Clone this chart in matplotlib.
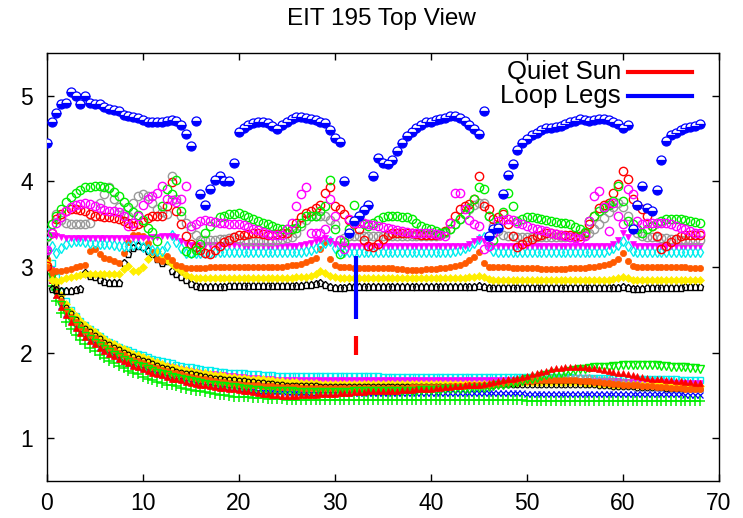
import numpy as np
import matplotlib
matplotlib.use("Agg")
import matplotlib.pyplot as plt

plt.rcParams['font.family'] = ['Liberation Sans', 'DejaVu Sans']

# time axis (hours), one sample every 0.5
t = np.arange(0, 68.01, 0.5)

# ---------------- upper group ----------------
blue_up = [
4.45,4.70,4.80,4.90,4.92,5.05,5.00,4.90,5.00,4.92,
4.90,4.90,4.87,4.85,4.84,4.82,4.78,4.76,4.75,4.74,
4.72,4.70,4.69,4.70,4.70,4.71,4.72,4.71,4.66,4.56,
4.41,4.71,3.85,3.72,3.91,4.02,4.06,4.01,4.00,4.22,
4.58,4.63,4.66,4.68,4.69,4.69,4.68,4.65,4.61,4.66,
4.70,4.73,4.75,4.75,4.74,4.73,4.72,4.70,4.68,4.60,
4.51,4.46,4.00,3.40,3.54,3.60,3.67,3.73,4.06,4.28,
4.22,4.20,4.25,4.36,4.45,4.53,4.58,4.63,4.66,4.69,
4.70,4.72,4.73,4.74,4.76,4.77,4.74,4.71,4.66,4.61,
4.56,4.82,3.36,3.44,3.46,3.85,4.07,4.21,4.37,4.45,
4.50,4.54,4.57,4.60,4.62,4.63,4.64,4.65,4.67,4.69,
4.71,4.73,4.72,4.71,4.72,4.73,4.73,4.72,4.70,4.67,
4.63,4.66,3.44,3.72,3.95,3.69,3.65,3.90,4.25,4.47,
4.54,4.57,4.60,4.62,4.64,4.65,4.67]

red_up = [
3.01,3.40,3.56,3.62,3.66,3.68,3.68,3.67,3.65,3.62,
3.60,3.60,3.59,3.58,3.57,3.56,3.54,3.52,3.48,3.50,
3.53,3.57,3.60,3.60,3.60,3.71,3.99,3.66,3.50,3.36,
3.27,3.24,3.20,3.16,3.15,3.20,3.25,3.29,3.32,3.35,
3.37,3.38,3.39,3.40,3.40,3.39,3.38,3.38,3.39,3.40,
3.40,3.45,3.52,3.58,3.63,3.66,3.69,3.73,3.87,3.93,
3.71,3.68,3.62,3.55,3.50,3.44,3.32,3.25,3.23,3.27,
3.33,3.37,3.40,3.40,3.40,3.40,3.40,3.39,3.38,3.38,
3.38,3.38,3.38,3.42,3.52,3.60,3.68,3.71,3.74,3.79,
4.06,3.71,3.68,3.56,3.59,3.62,3.50,3.36,3.23,3.27,
3.30,3.33,3.36,3.38,3.40,3.40,3.39,3.38,3.38,3.37,
3.36,3.36,3.40,3.50,3.60,3.69,3.72,3.75,3.86,3.97,
4.12,4.03,3.79,3.72,3.68,3.60,3.48,3.36,3.21,3.25,
3.29,3.33,3.36,3.38,3.38,3.38,3.38]

green_up = [
3.36,3.50,3.60,3.68,3.76,3.82,3.87,3.90,3.93,3.94,
3.95,3.95,3.94,3.92,3.88,3.83,3.76,3.70,3.64,3.61,
3.55,3.46,3.41,3.30,3.71,3.91,3.85,4.02,3.66,3.19,
3.17,3.20,3.27,3.40,3.48,3.53,3.58,3.60,3.62,3.62,
3.63,3.61,3.59,3.56,3.54,3.52,3.50,3.48,3.46,3.44,
3.44,3.44,3.46,3.52,3.60,3.60,3.60,3.65,3.71,4.02,
3.44,3.15,3.29,3.45,3.73,3.60,3.50,3.48,3.52,3.55,
3.58,3.60,3.60,3.60,3.59,3.58,3.56,3.52,3.48,3.46,
3.44,3.42,3.40,3.41,3.44,3.50,3.56,3.62,3.69,3.79,
3.93,3.91,3.60,3.32,3.48,3.64,3.87,3.71,3.54,3.56,
3.58,3.58,3.57,3.56,3.55,3.54,3.53,3.52,3.51,3.50,
3.47,3.44,3.41,3.54,3.60,3.66,3.69,3.72,3.77,3.95,
3.77,3.54,3.50,3.45,3.40,3.44,3.48,3.52,3.54,3.56,
3.56,3.56,3.56,3.55,3.54,3.53,3.52]

magenta_up = [
3.20,3.40,3.52,3.58,3.66,3.70,3.73,3.74,3.75,3.74,
3.71,3.69,3.67,3.66,3.65,3.64,3.60,3.48,3.52,3.60,
3.72,3.79,3.83,3.87,3.95,3.79,3.78,3.76,3.79,3.95,
3.48,3.50,3.54,3.55,3.54,3.53,3.52,3.51,3.50,3.50,
3.50,3.49,3.47,3.45,3.43,3.41,3.39,3.38,3.38,3.38,
3.45,3.52,3.71,3.85,3.94,3.40,3.40,3.40,3.44,3.79,
3.60,3.32,3.21,3.56,3.52,3.52,3.52,3.50,3.49,3.48,
3.47,3.46,3.44,3.43,3.42,3.41,3.40,3.40,3.40,3.40,
3.40,3.39,3.37,3.36,3.52,3.87,3.87,3.68,3.55,3.50,
3.48,3.21,3.25,3.40,3.54,3.55,3.56,3.55,3.52,3.50,
3.48,3.46,3.44,3.43,3.42,3.40,3.39,3.38,3.36,3.35,
3.34,3.33,3.36,3.54,3.83,3.89,3.70,3.42,3.75,3.60,
3.50,3.91,3.85,3.54,3.50,3.52,3.52,3.52,3.52,3.52,
3.50,3.48,3.46,3.44,3.42,3.40,3.40]

gray_up = [
3.35,3.50,3.62,3.55,3.52,3.50,3.50,3.50,3.50,3.52,
3.60,3.75,3.85,3.93,3.80,3.70,3.62,3.60,3.75,3.83,
3.85,3.83,3.75,3.68,3.64,3.62,4.06,3.80,3.60,3.52,
3.45,3.38,3.32,3.32,3.32,3.32,3.33,3.33,3.34,3.35,
3.33,3.31,3.30,3.30,3.30,3.30,3.30,3.31,3.32,3.33,
3.34,3.35,3.40,3.48,3.55,3.60,3.60,3.60,3.60,3.55,
3.50,3.32,3.34,3.36,3.36,3.36,3.36,3.36,3.36,3.36] + [3.36]*10 + [
3.36,3.36,3.37,3.40,3.45,3.50,3.56,3.62,3.68,3.72,
3.75,3.75,3.60,3.48,3.42,3.38,3.36,3.36,3.35,3.35] + [3.35]*10 + [
3.35,3.36,3.38,3.40,3.44,3.50,3.57,3.64,3.70,3.75,
3.70,3.60,3.44,3.40,3.36,3.35,3.35,3.35,3.34,3.34,
3.33,3.33,3.32,3.32,3.32,3.32,3.32]

magtri_up = [
3.20,3.38,3.36,3.35,3.34,3.34,3.34,3.34,3.34,3.34] + [3.34]*10 + [
3.34,3.34,3.35,3.35,3.36,3.36,3.36,3.35,3.30,3.27,
3.26,3.26,3.26,3.26,3.26,3.26,3.26,3.26,3.26,3.26,
3.26,3.25,3.25,3.25,3.25,3.25,3.25,3.25,3.25,3.25,
3.25,3.25,3.25,3.26,3.27,3.28,3.30,3.32,3.34,3.30,
3.27,3.26,3.25,3.25,3.25,3.25,3.25,3.25,3.25,3.25] + [3.25]*10 + [
3.25,3.25,3.25,3.25,3.25,3.25,3.25,3.25,3.27,3.30,
3.33,3.30,3.26,3.25,3.25,3.25,3.25,3.25,3.25,3.25] + [3.25]*10 + [
3.25,3.25,3.25,3.25,3.25,3.25,3.25,3.25,3.27,3.32,
3.40,3.35,3.27,3.25,3.25,3.25,3.25,3.25,3.25,3.25] + [3.25]*7

cyan_up = [
3.40,3.25,3.17,3.22,3.27,3.29,3.30,3.30,3.29,3.28,
3.28,3.27,3.27,3.27,3.26,3.25,3.25,3.25,3.26,3.27,
3.24,3.21,3.20,3.19,3.19,3.25,3.38,3.29,3.22,3.17,
3.17,3.17,3.17,3.17,3.17,3.18,3.18,3.18,3.18,3.18] + [3.18]*10 + [
3.18,3.18,3.18,3.18,3.19,3.20,3.22,3.25,3.28,3.30,
3.22,3.18,3.18,3.18,3.18,3.18,3.18,3.18,3.18,3.18] + [3.18]*10 + [
3.18,3.18,3.18,3.18,3.18,3.19,3.20,3.22,3.25,3.28,
3.33,3.35,3.25,3.19,3.18,3.18,3.18,3.18,3.18,3.18] + [3.18]*10 + [
3.18,3.18,3.18,3.18,3.18,3.18,3.18,3.20,3.22,3.26,
3.30,3.25,3.19,3.18,3.18,3.18,3.18,3.18,3.18,3.18] + [3.18]*7

orange_up = [
3.00,2.96,2.95,2.96,2.97,2.98,3.00,3.01,3.03,3.19,
3.21,3.15,3.11,3.09,3.07,3.05,3.17,3.29,3.38,3.37,
3.36,3.28,3.18,3.10,3.07,3.13,3.08,3.03,3.01,2.99,
2.99,2.99,2.99,2.99,3.00,3.00,3.00,3.00,3.00,3.00] + [3.00]*10 + [
3.01,3.02,3.03,3.04,3.06,3.08,3.11,3.21,3.29,3.10,
3.02,3.00,3.00,3.00,2.99,2.99,2.99,2.99,2.99,2.99,
2.99,2.99,2.99,2.98,2.98,2.97,2.97,2.97,2.97,2.98,
2.98,2.98,2.99,2.99,3.00,3.01,3.03,3.05,3.08,3.12,
3.18,3.05,3.00,3.00,3.00,3.00,3.00,2.99,2.99,2.99,
2.99,2.99,2.99,2.98,2.98,2.98,2.98,2.98,2.98,2.99,
2.99,2.99,2.99,3.00,3.00,3.01,3.02,3.04,3.06,3.09,
3.17,3.07,3.01,3.00,3.00,3.00,3.00,3.00,3.00,3.00,
3.00,3.00,3.00,3.00,2.99,2.99,2.99]

yellow_up = [
3.05,2.85,2.84,2.85,2.87,2.89,2.90,2.91,2.92,2.92,
2.92,2.92,2.92,2.92,2.92,2.92,2.98,3.01,2.96,2.95,
3.00,3.10,3.17,3.19,3.12,3.08,3.04,3.00,2.96,2.91,
2.88,2.87,2.87,2.87,2.87,2.87,2.87,2.87,2.87,2.87] + [2.87]*10 + [
2.87,2.87,2.88,2.88,2.89,2.90,2.92,2.95,2.93,2.90,
2.88,2.87,2.87,2.87,2.87,2.87,2.87,2.87,2.87,2.87] + [2.87]*10 + [
2.87,2.87,2.87,2.87,2.87,2.87,2.87,2.87,2.88,2.89,
2.90,2.88,2.86,2.85,2.85,2.85,2.85,2.85,2.85,2.85] + [2.85]*10 + [
2.85,2.85,2.85,2.85,2.85,2.85,2.85,2.85,2.86,2.87,
2.88,2.87,2.85,2.85,2.85,2.85,2.85,2.85,2.85,2.85] + [2.85]*7

black_up = [
3.03,2.74,2.73,2.72,2.72,2.72,2.73,2.74,2.93,2.90,
2.88,2.85,2.83,2.82,2.82,2.82,3.05,3.15,3.22,3.25,
3.23,3.19,3.15,3.10,3.05,3.07,2.95,2.92,2.88,2.85,
2.80,2.78,2.77,2.77,2.77,2.77,2.77,2.77,2.78,2.78] + [2.78]*10 + [
2.78,2.78,2.78,2.78,2.79,2.79,2.80,2.81,2.79,2.77,
2.76,2.76,2.76,2.77,2.77,2.77,2.77,2.77,2.77,2.77] + [2.77]*20 + [
2.78,2.77,2.76,2.76,2.76,2.76,2.76,2.76,2.76,2.76] + [2.76]*20 + [
2.77,2.76,2.74,2.74,2.75,2.76,2.76,2.76,2.76,2.76,
2.76,2.76,2.76,2.77,2.77,2.77,2.77]

# ---------------- lower group ----------------
cyan_lo = [
3.20,3.05,2.88,2.72,2.60,2.50,2.43,2.37,2.32,2.28,
2.24,2.20,2.16,2.13,2.10,2.07,2.05,2.03,2.01,1.99,
1.97,1.95,1.93,1.92,1.90,1.89,1.88,1.86,1.85,1.84,
1.83,1.82,1.81,1.80,1.80,1.79,1.78,1.78,1.77,1.77,
1.76,1.76,1.75,1.75,1.75,1.74,1.74,1.74,1.73,1.73] + [1.73]*20 + [1.72]*40 + [1.71]*10 + [1.70]*10 + [
1.69,1.69,1.68,1.68,1.68,1.68,1.68]

magenta_lo = [
3.15,2.98,2.82,2.67,2.56,2.47,2.40,2.34,2.29,2.25,
2.21,2.17,2.13,2.10,2.07,2.04,2.02,2.00,1.98,1.96,
1.94,1.92,1.90,1.89,1.87,1.86,1.85,1.83,1.82,1.81,
1.80,1.79,1.78,1.77,1.77,1.76,1.75,1.75,1.74,1.74,
1.73,1.73,1.72,1.72,1.72,1.71,1.71,1.71,1.70,1.70] + [1.70]*20 + [1.69]*30 + [1.68]*20 + [1.67]*10 + [1.66]*7

yellow_lo = [
3.08,2.95,2.81,2.67,2.57,2.49,2.43,2.37,2.32,2.28,
2.24,2.20,2.16,2.13,2.10,2.07,2.04,2.02,1.99,1.97,
1.95,1.93,1.91,1.89,1.87,1.85,1.84,1.82,1.81,1.80,
1.79,1.78,1.77,1.76,1.75,1.74,1.74,1.73,1.72,1.72,
1.71,1.71,1.70,1.70,1.69,1.69,1.68,1.68,1.67,1.67,
1.66,1.66,1.66,1.65,1.65,1.65,1.65,1.64,1.64,1.64] + [1.64]*30 + [
1.64,1.64,1.64,1.64,1.65,1.65,1.65,1.65,1.65,1.66] + [1.66]*10 + [
1.66,1.66,1.65,1.65,1.65,1.64,1.64,1.64,1.63,1.63,
1.63,1.63,1.63,1.62,1.62,1.62,1.62,1.62,1.62,1.61] + [1.61]*7

black_lo = [
3.05,2.92,2.78,2.64,2.54,2.46,2.40,2.34,2.29,2.25,
2.21,2.17,2.13,2.10,2.07,2.04,2.01,1.99,1.96,1.94,
1.92,1.90,1.88,1.86,1.84,1.82,1.81,1.79,1.78,1.77,
1.76,1.75,1.74,1.73,1.72,1.71,1.71,1.70,1.69,1.69,
1.68,1.68,1.67,1.67,1.66,1.66,1.65,1.65,1.64,1.64,
1.63,1.63,1.63,1.62,1.62,1.62,1.62,1.61,1.61,1.61] + [1.61]*30 + [
1.61,1.61,1.61,1.61,1.62,1.62,1.62,1.62,1.62,1.63] + [1.63]*10 + [
1.63,1.63,1.62,1.62,1.62,1.61,1.61,1.61,1.60,1.60,
1.60,1.60,1.60,1.59,1.59,1.59,1.59,1.59,1.59,1.58] + [1.58]*7

orange_lo = [
3.10,2.90,2.74,2.60,2.50,2.42,2.36,2.30,2.25,2.21,
2.17,2.13,2.09,2.06,2.03,2.00,1.97,1.94,1.92,1.90,
1.88,1.86,1.84,1.82,1.80,1.79,1.77,1.76,1.75,1.73,
1.72,1.71,1.70,1.69,1.68,1.67,1.66,1.66,1.65,1.64,
1.64,1.63,1.63,1.62,1.62,1.61,1.61,1.61,1.60,1.60,
1.60,1.60,1.60,1.59,1.59,1.59,1.59,1.59,1.59,1.59] + [1.59]*10 + [
1.59,1.59,1.59,1.59,1.59,1.59,1.60,1.60,1.60,1.60,
1.60,1.60,1.60,1.60,1.61,1.61,1.61,1.61,1.62,1.62,
1.62,1.63,1.63,1.64,1.64,1.65,1.65,1.66,1.66,1.67,
1.67,1.67,1.68,1.68,1.68,1.68,1.68,1.68,1.68,1.68,
1.68,1.67,1.67,1.67,1.66,1.66,1.65,1.65,1.64,1.64,
1.63,1.63,1.62,1.62,1.61,1.61,1.61,1.60,1.60,1.60,
1.59,1.59,1.59,1.58,1.58,1.58,1.58]

red_lo = [
3.10,2.85,2.68,2.54,2.44,2.36,2.29,2.23,2.18,2.14,
2.10,2.06,2.02,1.99,1.96,1.93,1.90,1.88,1.85,1.83,
1.81,1.79,1.77,1.75,1.74,1.72,1.70,1.69,1.68,1.66,
1.65,1.64,1.63,1.62,1.61,1.60,1.59,1.59,1.58,1.58,
1.57,1.56,1.55,1.54,1.53,1.52,1.52,1.51,1.51,1.50,
1.50,1.50,1.50,1.51,1.51,1.51,1.51,1.52,1.52,1.52,
1.52,1.53,1.53,1.53,1.54,1.54,1.54,1.55,1.55,1.55,
1.55,1.56,1.56,1.56,1.57,1.57,1.57,1.58,1.58,1.58,
1.58,1.59,1.59,1.60,1.60,1.61,1.61,1.62,1.62,1.63,
1.63,1.64,1.65,1.66,1.67,1.68,1.69,1.70,1.71,1.72,
1.73,1.75,1.76,1.78,1.79,1.81,1.82,1.82,1.83,1.83,
1.83,1.83,1.83,1.82,1.82,1.81,1.80,1.79,1.78,1.77,
1.76,1.75,1.74,1.73,1.72,1.71,1.70,1.69,1.69,1.68,
1.68,1.67,1.67,1.66,1.66,1.65,1.65]

greentri_lo = [
3.15,2.88,2.70,2.56,2.46,2.38,2.31,2.25,2.20,2.16,
2.12,2.08,2.04,2.01,1.98,1.95,1.92,1.89,1.87,1.85,
1.83,1.81,1.79,1.77,1.75,1.74,1.72,1.71,1.69,1.68,
1.67,1.66,1.65,1.64,1.63,1.62,1.61,1.61,1.60,1.60,
1.59,1.58,1.58,1.57,1.57,1.56,1.56,1.56,1.55,1.55,
1.55,1.55,1.54,1.54,1.54,1.54,1.54,1.54,1.54,1.54,
1.54,1.54,1.54,1.54,1.55,1.55,1.55,1.55,1.55,1.55,
1.55,1.55,1.56,1.56,1.56,1.56,1.56,1.56,1.57,1.57,
1.57,1.57,1.57,1.58,1.58,1.58,1.58,1.58,1.58,1.59,
1.59,1.59,1.60,1.61,1.62,1.63,1.64,1.65,1.66,1.67,
1.69,1.70,1.71,1.73,1.74,1.75,1.76,1.77,1.78,1.79,
1.80,1.81,1.81,1.82,1.83,1.83,1.84,1.84,1.85,1.85,
1.86,1.86,1.86,1.86,1.86,1.86,1.86,1.86,1.85,1.85,
1.84,1.84,1.83,1.83,1.82,1.82,1.81]

gray_lo = [
3.10,2.92,2.76,2.62,2.52,2.44,2.38,2.32,2.27,2.23,
2.19,2.15,2.11,2.08,2.05,2.02,1.99,1.96,1.94,1.92,
1.90,1.88,1.86,1.84,1.82,1.80,1.79,1.77,1.76,1.74,
1.73,1.72,1.71,1.70,1.69,1.68,1.67,1.67,1.66,1.65,
1.65,1.64,1.64,1.63,1.63,1.62,1.62,1.61,1.61,1.61] + [1.60]*27 + [
1.61,1.61,1.61,
1.61,1.61,1.62,1.62,1.62,1.63,1.63,1.63,1.64,1.64,
1.64,1.65,1.65,1.66,1.66,1.67,1.67,1.68,1.68,1.69,
1.69,1.70,1.70,1.71,1.71,1.72,1.72,1.72,1.73,1.73,
1.73,1.73,1.72,1.72,1.71,1.70,1.70,1.69,1.68,1.67,
1.67,1.66,1.65,1.65,1.64,1.63,1.63,1.62,1.62,1.61,
1.61,1.60,1.60,1.60,1.59,1.59,1.59]

bluex_lo = [
3.05,2.85,2.68,2.55,2.45,2.37,2.30,2.24,2.19,2.15,
2.11,2.07,2.03,2.00,1.97,1.94,1.91,1.88,1.86,1.84,
1.82,1.80,1.78,1.76,1.74,1.73,1.71,1.70,1.69,1.67,
1.66,1.65,1.64,1.63,1.62,1.61,1.61,1.60,1.59,1.59,
1.58,1.58,1.57,1.57,1.56,1.56,1.56,1.55,1.55,1.55,
1.54,1.54,1.54,1.54,1.54,1.53,1.53,1.53,1.53,1.53] + [1.53]*40 + [1.52]*33 + [1.51]*4

greenplus_lo = [
3.00,2.78,2.60,2.46,2.36,2.28,2.21,2.15,2.10,2.06,
2.02,1.98,1.94,1.91,1.88,1.85,1.82,1.79,1.77,1.75,
1.72,1.70,1.68,1.66,1.65,1.63,1.62,1.61,1.59,1.58,
1.57,1.56,1.55,1.54,1.53,1.52,1.51,1.51,1.50,1.49,
1.49,1.48,1.48,1.47,1.47,1.47,1.46,1.46,1.46,1.46] + [1.45]*50 + [1.44]*37

# the two line series shown in the key
qs_x = [32.2, 32.2]
qs_y = [2.195, 1.97]
ll_x = [32.2, 32.2]
ll_y = [3.13, 2.40]

RED = '#ff0000'; GREEN = '#00ee00'; BLUE = '#0000ff'; MAG = '#ff00ff'
CYAN = '#00eeee'; ORANGE = '#ff5a00'; YELLOW = '#ffee00'; GRAY = '#999999'

fig = plt.figure(figsize=(7.43, 5.18), dpi=100)
ax = fig.add_axes([0.0629, 0.0708, 0.9048, 0.8269])

def pts(y, **kw):
    ax.plot(t[:len(y)], y[:len(t)], linestyle='none', **kw)

# lower group
pts(cyan_lo, marker='s', ms=4.8, mfc='none', mec=CYAN, mew=1.0, zorder=2)
pts(magenta_lo, marker='s', ms=2.5, mfc=MAG, mec=MAG, mew=0.5, zorder=2)
pts(bluex_lo, marker='x', ms=4.5, mec=BLUE, mew=0.9, zorder=2)
pts(greenplus_lo, marker='+', ms=6.5, mec=GREEN, mew=1.1, zorder=2)
pts(gray_lo, marker='^', ms=5, mfc='none', mec=GRAY, mew=1.0, zorder=2)
pts(yellow_lo, marker='D', ms=4.0, mfc=YELLOW, mec=YELLOW, mew=0.5, zorder=2)
pts(black_lo, marker='o', ms=3.4, mfc='none', mec='black', mew=0.8, zorder=2)
pts(orange_lo, marker='o', ms=4.5, mfc=ORANGE, mec=ORANGE, mew=0.5, zorder=2)
pts(greentri_lo, marker='v', ms=5.5, mfc='none', mec=GREEN, mew=1.0, zorder=2)
pts(red_lo, marker='^', ms=5, mfc=RED, mec=RED, mew=0.5, zorder=2)

# upper group
pts(black_up, marker='p', ms=5.2, mfc='none', mec='black', mew=1.0, zorder=3)
pts(yellow_up, marker='D', ms=4.2, mfc=YELLOW, mec=YELLOW, mew=0.5, zorder=3)
pts(orange_up, marker='o', ms=4.5, mfc=ORANGE, mec=ORANGE, mew=0.5, zorder=3)
pts(cyan_up, marker='d', ms=5.5, mfc='none', mec=CYAN, mew=1.0, zorder=3)
pts(magtri_up, marker='v', ms=5, mfc=MAG, mec=MAG, mew=0.5, zorder=3)
pts(gray_up, marker='o', ms=6, mfc='none', mec=GRAY, mew=1.0, zorder=3)
pts(red_up, marker='o', ms=6, mfc='none', mec=RED, mew=1.0, zorder=3)
pts(green_up, marker='o', ms=6, mfc='none', mec=GREEN, mew=1.0, zorder=3)
pts(magenta_up, marker='o', ms=6, mfc='none', mec=MAG, mew=1.0, zorder=3)
pts(blue_up, marker='o', ms=6.5, mfc=BLUE, mfcalt='white', fillstyle='bottom',
    mec=BLUE, mew=0.9, zorder=4)

# key line series
ax.plot(qs_x, qs_y, color=RED, lw=3, solid_capstyle='butt', zorder=5)
ax.plot(ll_x, ll_y, color=BLUE, lw=3, solid_capstyle='butt', zorder=5)

# key
for yk, lab, col in [(0.9556, 'Quiet Sun', RED), (0.8996, 'Loop Legs', BLUE)]:
    ax.text(0.854, yk, lab, transform=ax.transAxes, ha='right', va='center',
            fontsize=18.5, zorder=6)
    ax.plot([0.8647, 0.9598], [yk, yk], transform=ax.transAxes, color=col,
            lw=3, zorder=6)

ax.set_xlim(0, 70)
ax.set_ylim(0.5, 5.5)
ax.set_xticks([0, 10, 20, 30, 40, 50, 60, 70])
ax.set_yticks([1, 2, 3, 4, 5])
ax.tick_params(direction='in', top=True, right=True, length=5, width=1.0,
               labelsize=16.5)
ax.tick_params(axis='x', pad=8)
ax.tick_params(axis='y', pad=10)
for s in ax.spines.values():
    s.set_linewidth(1.0)

fig.text(381.7 / 743, 1 - 18.7 / 518, 'EIT 195 Top View', ha='center',
         va='center', fontsize=17.5)

fig.savefig('out.png', dpi=100)
